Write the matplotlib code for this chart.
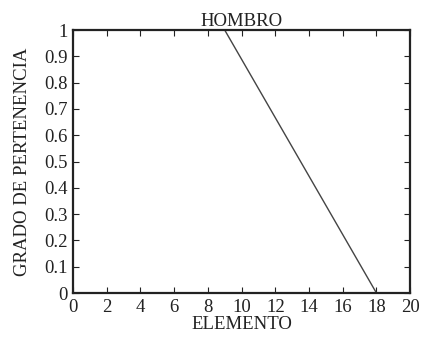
import matplotlib
matplotlib.use('Agg')
import matplotlib.pyplot as plt

# membership function "HOMBRO"
x_pts = [9, 18]
y_pts = [1, 0]
x_ticks = list(range(0, 21, 2))
y_ticks = [0, 0.1, 0.2, 0.3, 0.4, 0.5, 0.6, 0.7, 0.8, 0.9, 1]
y_labels = ['0', '0.1', '0.2', '0.3', '0.4', '0.5', '0.6', '0.7', '0.8', '0.9', '1']

plt.rcParams['font.family'] = ['Liberation Serif', 'DejaVu Serif']
fs = 13.5

fig = plt.figure(figsize=(4.22, 3.38), dpi=100)
ax = fig.add_axes([0.173, 0.133, 0.799, 0.778])

ax.plot(x_pts, y_pts, color='#444444', linewidth=1.0)

ax.set_xlim(0, 20)
ax.set_ylim(0, 1)
ax.set_xticks(x_ticks)
ax.set_yticks(y_ticks)
ax.set_yticklabels(y_labels)
ax.tick_params(direction='in', top=True, right=True, length=4, width=0.8,
               labelsize=fs, pad=4, colors='#222222')
for s in ax.spines.values():
  s.set_linewidth(1.6)
  s.set_color('#222222')

ax.set_title('HOMBRO', fontsize=fs, pad=3, color='#222222')
ax.set_xlabel('ELEMENTO', fontsize=fs, labelpad=0, color='#222222')
ax.set_ylabel('GRADO DE PERTENENCIA', fontsize=fs, labelpad=9, color='#222222')

fig.savefig('out.png', dpi=100)
